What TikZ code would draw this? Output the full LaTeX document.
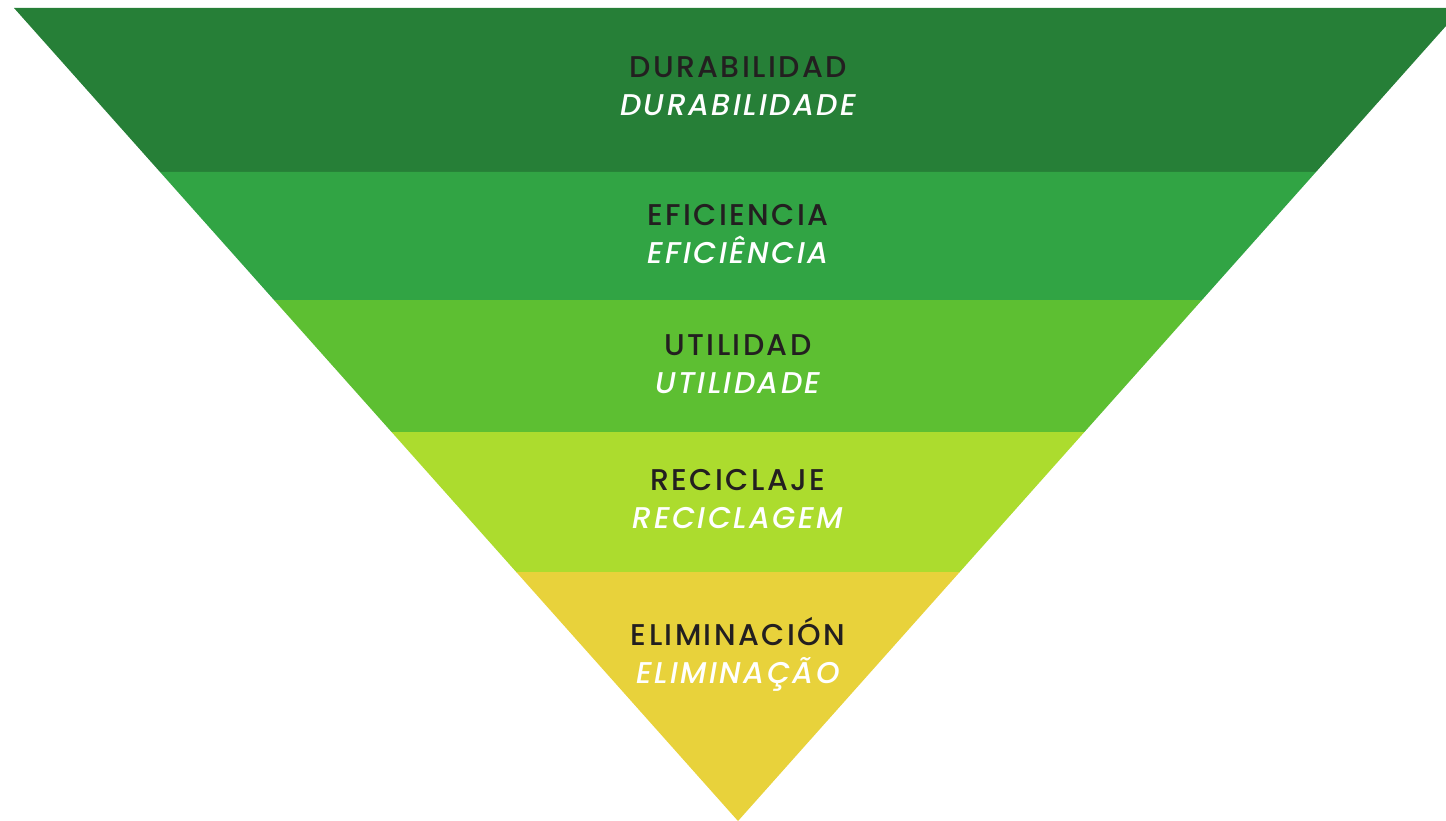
\documentclass[tikz,border=0pt]{standalone}
\usepackage{fontspec}
\setmainfont{Poppins}[UprightFont=* Medium, ItalicFont=* Medium Italic, LetterSpace=8]
\usetikzlibrary{positioning}

\definecolor{bandone}{RGB}{38,127,55}
\definecolor{bandtwo}{RGB}{49,164,68}
\definecolor{bandthree}{RGB}{93,191,50}
\definecolor{bandfour}{RGB}{172,220,46}
\definecolor{bandfive}{RGB}{232,210,59}
\definecolor{inkdark}{RGB}{35,31,32}

\begin{document}
\begin{tikzpicture}[x=1pt, y=-1pt,
    es/.style={font=\fontsize{30}{30}\selectfont, text=inkdark, inner sep=0pt, text height=21pt, text depth=0pt},
    pt/.style={font=\fontsize{30}{30}\selectfont\itshape, text=white, inner sep=0pt, text height=21pt, text depth=0pt}]

	\def\xa{14};
	\def\xb{1462};
	\def\s{0.8905};

	\useasboundingbox (0,0) rectangle (1446,821);
	\clip (0,0) rectangle (1446,821);

	% bands of the funnel
	\foreach \top/\bot/\col in {8/172/bandone, 172/300/bandtwo, 300/432/bandthree, 432/572/bandfour, 572/821/bandfive}{
		\fill[\col] ({\xa+\s*(\top-8)},\top) -- ({\xb-\s*(\top-8)},\top) -- ({\xb-\s*(\bot-8)},\bot) -- ({\xa+\s*(\bot-8)},\bot) -- cycle;
	}

	% labels
	\foreach \y/\es/\pt/\name in {67/DURABILIDAD/DURABILIDADE/dur, 215/EFICIENCIA/EFICIÊNCIA/efi, 345/UTILIDAD/UTILIDADE/uti, 480/RECICLAJE/RECICLAGEM/rec, 635/ELIMINACIÓN/ELIMINAÇÃO/eli}{
		\node[es] (\name) at (738,\y) {\es};
		\node[pt, below=17pt of \name] (\name-pt) {\pt};
	}

\end{tikzpicture}
\end{document}
